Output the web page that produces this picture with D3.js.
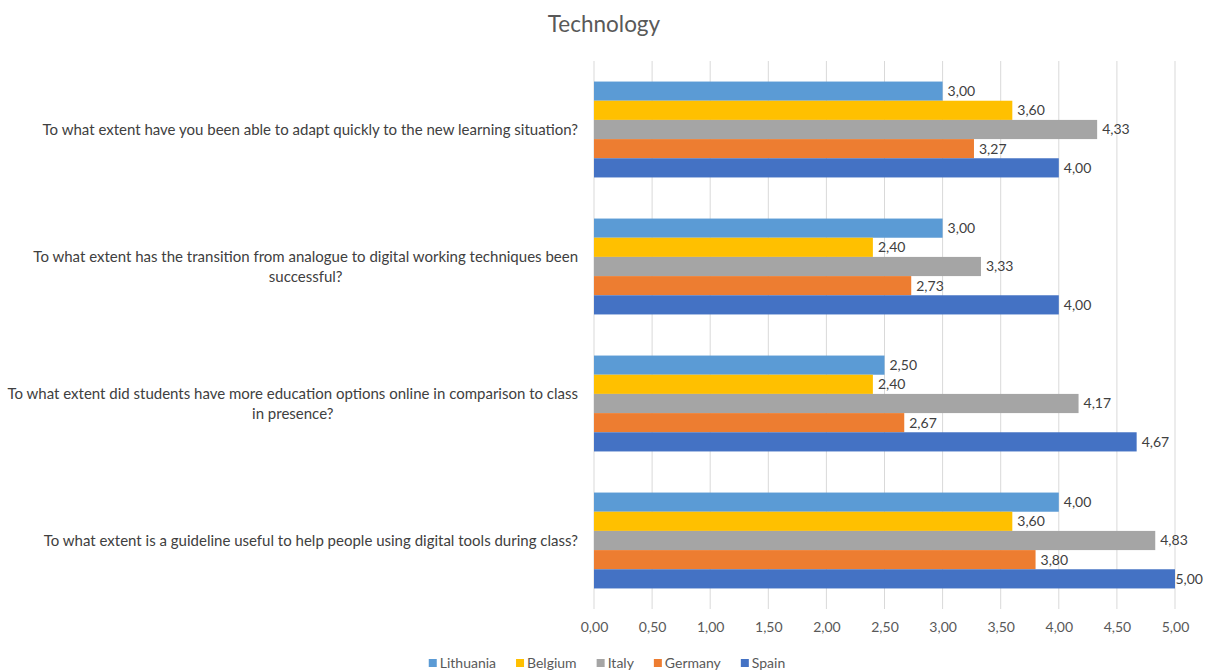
<!DOCTYPE html>
<html><head><meta charset="utf-8">
<script src="https://cdn.jsdelivr.net/npm/d3@7"></script>
<style>
body{margin:0;background:#fff;}
svg{display:block;font-family:Lato,"Open Sans",sans-serif;}
</style></head>
<body><svg id="chart" width="1205" height="672"></svg>
<script>
const categories = [
  ["To what extent have you been able to adapt quickly to the new learning situation?"],
  ["To what extent has the transition from analogue to digital working techniques been", "successful?"],
  ["To what extent did students have more education options online in comparison to class", "in presence?"],
  ["To what extent is a guideline useful to help people using digital tools during class?"]
];
const seriesNames = ["Lithuania", "Belgium", "Italy", "Germany", "Spain"];
const lithuania = [3.00, 3.00, 2.50, 4.00];
const belgium   = [3.60, 2.40, 2.40, 3.60];
const italy     = [4.33, 3.33, 4.17, 4.83];
const germany   = [3.27, 2.73, 2.67, 3.80];
const spain     = [4.00, 4.00, 4.67, 5.00];
const colors = ["#5B9BD5", "#FFC000", "#A5A5A5", "#ED7D31", "#4472C4"];
const xTicks = [0, 0.5, 1, 1.5, 2, 2.5, 3, 3.5, 4, 4.5, 5];

const series = [lithuania, belgium, italy, germany, spain];
const svg = d3.select("#chart");
const W = 1205;
const pLeft = 594, pRight = 1175, pTop = 61, pBottom = 609;
const fmt = v => v.toFixed(2).replace(".", ",");

const x = d3.scaleLinear().domain([0, 5]).range([pLeft, pRight]);
const y0 = d3.scaleBand().domain(d3.range(categories.length)).range([pTop, pBottom]).paddingInner(0.3).paddingOuter(0.15);
const y1 = d3.scaleBand().domain(d3.range(seriesNames.length)).range([0, y0.bandwidth()]);

// title
svg.append("text").attr("x", 604).attr("y", 32).attr("text-anchor", "middle")
  .attr("font-size", 22.5).attr("fill", "#595959").text("Technology");

// gridlines
svg.append("g").selectAll("line").data(xTicks).join("line")
  .attr("x1", d => x(d)).attr("x2", d => x(d)).attr("y1", pTop).attr("y2", pBottom)
  .attr("stroke", "#D9D9D9").attr("stroke-width", 1);

// x axis labels
const xAxis = d3.axisBottom(x).tickValues(xTicks).tickFormat(fmt).tickSize(0).tickPadding(0);
const gx = svg.append("g").attr("transform", `translate(0,${pBottom + 13})`).call(xAxis);
gx.select(".domain").remove();
gx.selectAll("text").attr("font-size", 14).attr("fill", "#595959").attr("font-family", "Lato,'Open Sans',sans-serif");

// bars
const groups = svg.append("g").selectAll("g").data(categories).join("g")
  .attr("transform", (d, i) => `translate(0,${y0(i)})`);
series.forEach((vals, s) => {
  groups.append("rect")
    .attr("x", x(0)).attr("y", y1(s))
    .attr("width", (d, i) => x(vals[i]) - x(0)).attr("height", y1.bandwidth())
    .attr("fill", colors[s]);
  groups.append("text")
    .attr("y", y1(s) + y1.bandwidth() / 2)
    .attr("dy", "0.35em").attr("font-size", 14).attr("fill", "#404040")
    .text((d, i) => fmt(vals[i]))
    .attr("x", function(d, i) {
      const w = this.getComputedTextLength();
      return Math.min(x(vals[i]) + 5, W - 2 - w);
    });
});

// category labels
const labelRight = 578;
categories.forEach((lines, i) => {
  const t = svg.append("text").attr("font-size", 15).attr("fill", "#404040").attr("text-anchor", "middle");
  const cy = y0(i) + y0.bandwidth() / 2;
  const lh = 20;
  const start = cy - (lines.length - 1) * lh / 2;
  const spans = lines.map((ln, k) =>
    t.append("tspan").attr("x", 0).attr("y", start + k * lh).attr("dy", "0.35em").text(ln));
  const w = d3.max(spans, s => s.node().getComputedTextLength());
  t.selectAll("tspan").attr("x", labelRight - w / 2);
});

// legend
const legend = svg.append("g");
let lx = 0;
seriesNames.forEach((n, i) => {
  const g = legend.append("g").attr("transform", `translate(${lx},0)`);
  g.append("rect").attr("x", 0).attr("y", -4).attr("width", 8).attr("height", 8).attr("fill", colors[i]);
  const t = g.append("text").attr("x", 11).attr("y", 0).attr("dy", "0.35em").attr("font-size", 14).attr("fill", "#595959").text(n);
  lx += 11 + t.node().getComputedTextLength() + 20;
});
const totalW = lx - 20;
legend.attr("transform", `translate(${607 - totalW / 2},663)`);
</script></body></html>
